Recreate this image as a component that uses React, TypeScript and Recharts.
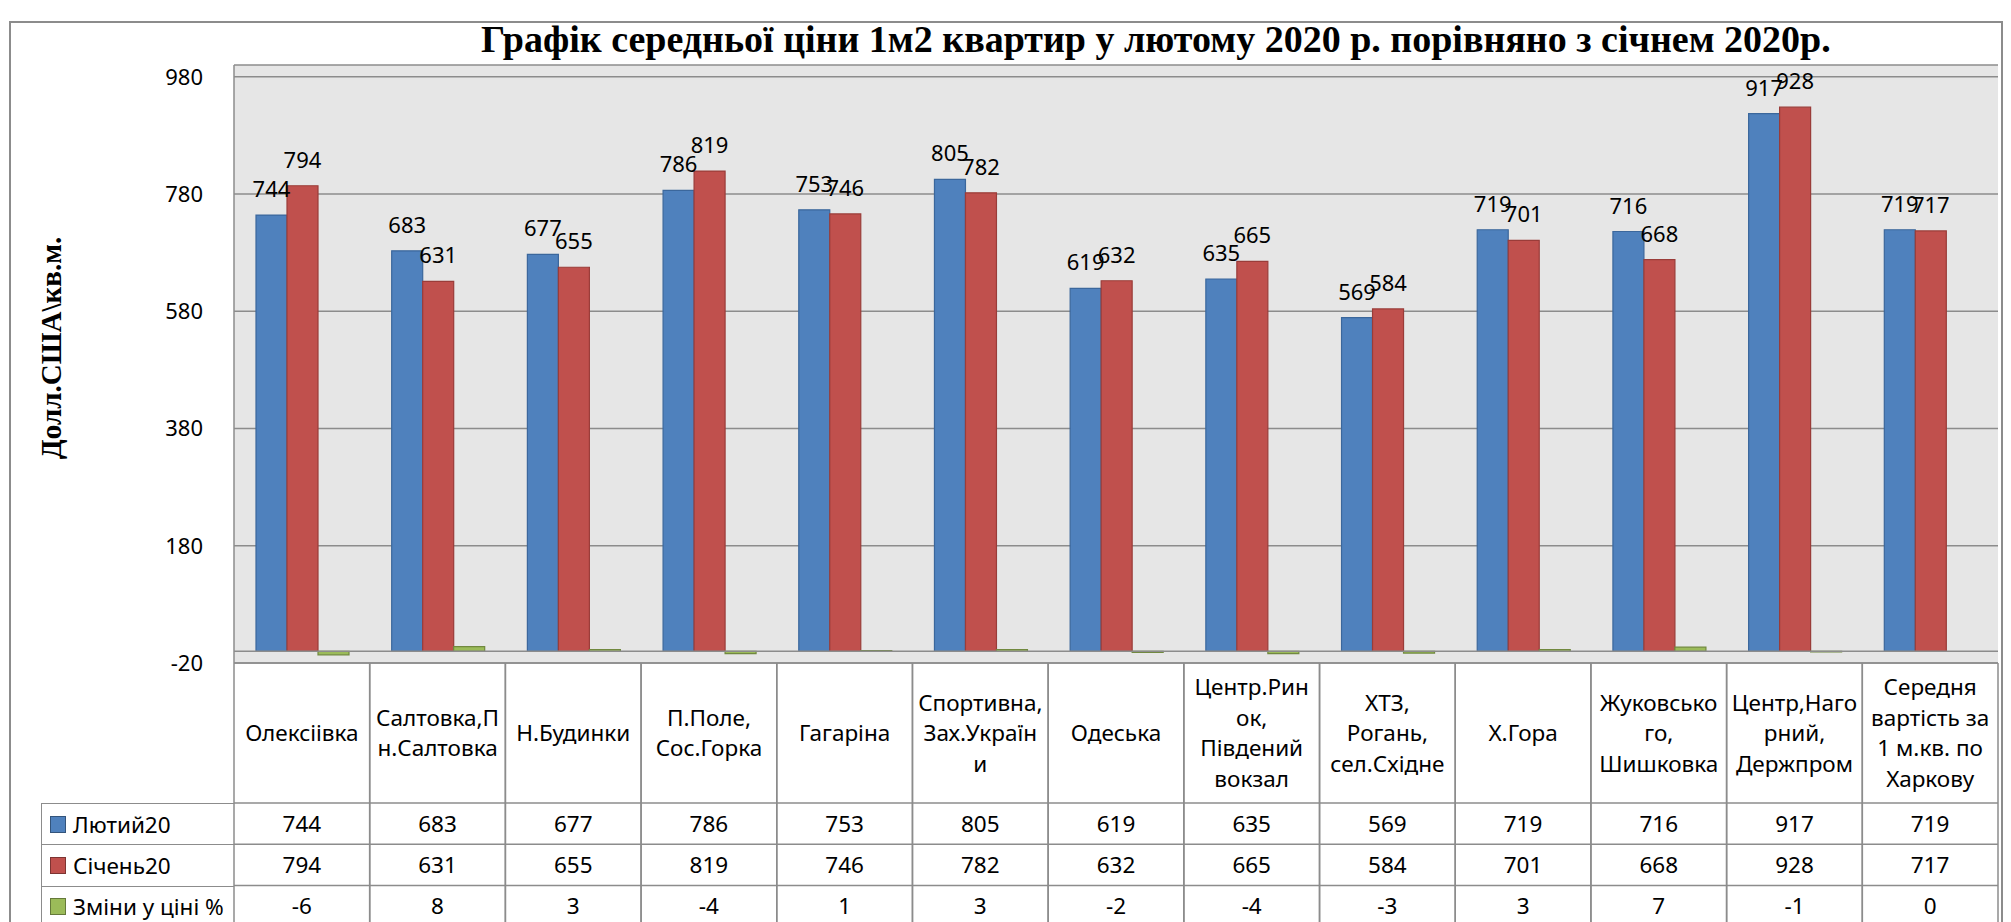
import React from "react";
import { BarChart, Bar, XAxis, YAxis, CartesianGrid, ReferenceLine, LabelList, Legend } from "recharts";

const categories = [
  "Олексіівка",
  "Салтовка,Пн.Салтовка",
  "Н.Будинки",
  "П.Поле, Сос.Горка",
  "Гагаріна",
  "Спортивна, Зах.України",
  "Одеська",
  "Центр.Ринок, Південий вокзал",
  "ХТЗ, Рогань, сел.Східне",
  "Х.Гора",
  "Жуковського, Шишковка",
  "Центр,Нагорний, Держпром",
  "Середня вартість за 1 м.кв. по Харкову",
];

// how each category name wraps in the table header
const categoryLines = [
  ["Олексіівка"],
  ["Салтовка,П", "н.Салтовка"],
  ["Н.Будинки"],
  ["П.Поле,", "Сос.Горка"],
  ["Гагаріна"],
  ["Спортивна,", "Зах.Україн", "и"],
  ["Одеська"],
  ["Центр.Рин", "ок,", "Південий", "вокзал"],
  ["ХТЗ,", "Рогань,", "сел.Східне"],
  ["Х.Гора"],
  ["Жуковсько", "го,", "Шишковка"],
  ["Центр,Наго", "рний,", "Держпром"],
  ["Середня", "вартість за", "1 м.кв. по", "Харкову"],
];

const feb20 = [744, 683, 677, 786, 753, 805, 619, 635, 569, 719, 716, 917, 719];
const jan20 = [794, 631, 655, 819, 746, 782, 632, 665, 584, 701, 668, 928, 717];
const priceChange = [-6, 8, 3, -4, 1, 3, -2, -4, -3, 3, 7, -1, 0];

const seriesNames = ["Лютий20", "Січень20", "Зміни у ціні %"];
const yTicks = [-20, 180, 380, 580, 780, 980];

const data = categories.map((name, i) => ({
  name,
  feb: feb20[i],
  jan: jan20[i],
  change: priceChange[i],
}));

const FONT = "'Noto Sans', 'Open Sans', sans-serif";
const SERIF = "'Liberation Serif', 'Times New Roman', serif";
const LINE = "#8c8c8c";

const W = 2011;
const H = 922;
const PLOT_LEFT = 234;
const PLOT_RIGHT = 1998;
const PLOT_TOP = 65;
const PLOT_BOTTOM = 663;
const BAND = (PLOT_RIGHT - PLOT_LEFT) / categories.length;
const HEAD_H = 140;
const ROW_H = 41.3;
const TABLE_FS = 22.5;

const TableTick = (props: any) => {
  const { x, y, payload } = props;
  const i = categories.indexOf(payload.value);
  const lines = categoryLines[i] || [payload.value];
  const left = x - BAND / 2;
  const right = x + BAND / 2;
  const headMid = y + HEAD_H / 2;
  const rows = [feb20[i], jan20[i], priceChange[i]];
  const bottom = H + 10;
  return (
    <g>
      <line x1={left} y1={y} x2={left} y2={bottom} stroke={LINE} strokeWidth={1.5} />
      <line x1={right} y1={y} x2={right} y2={bottom} stroke={LINE} strokeWidth={1.5} />
      {lines.map((t, k) => (
        <text
          key={k}
          x={x}
          y={headMid + (k - (lines.length - 1) / 2) * 30.5 + 8}
          textAnchor="middle"
          fontFamily={FONT}
          fontSize={TABLE_FS}
          fill="#000"
        >
          {t}
        </text>
      ))}
      {rows.map((v, r) => {
        const top = y + HEAD_H + r * ROW_H;
        return (
          <g key={r}>
            <line x1={left} y1={top} x2={right} y2={top} stroke={LINE} strokeWidth={1.5} />
            <text x={x} y={top + ROW_H / 2 + 8} textAnchor="middle" fontFamily={FONT} fontSize={TABLE_FS} fill="#000">
              {v}
            </text>
          </g>
        );
      })}
    </g>
  );
};

const TableLegend = (props: any) => {
  const items = [...(props.payload || [])].sort(
    (a: any, b: any) => seriesNames.indexOf(a.value) - seriesNames.indexOf(b.value)
  );
  return (
    <div style={{ width: PLOT_LEFT - 41, fontFamily: FONT, fontSize: TABLE_FS, color: "#000" }}>
      {items.map((it: any, k: number) => (
        <div
          key={k}
          style={{
            height: ROW_H,
            boxSizing: "border-box",
            borderLeft: `1.5px solid ${LINE}`,
            borderTop: `1.5px solid ${LINE}`,
            display: "flex",
            alignItems: "center",
            whiteSpace: "nowrap",
          }}
        >
          <span
            style={{
              display: "inline-block",
              width: 14,
              height: 15,
              marginLeft: 8,
              marginRight: 7,
              background: it.color,
              border: "1px solid rgba(0,0,0,0.35)",
            }}
          />
          <span>{it.value}</span>
        </div>
      ))}
    </div>
  );
};

export default function App() {
  return (
    <div style={{ position: "absolute", left: 0, top: 0, width: W, height: H, background: "#fff", overflow: "hidden" }}>
      <div
        style={{
          position: "absolute",
          left: 9,
          top: 21,
          width: 1994,
          height: 940,
          border: `2px solid ${LINE}`,
          boxSizing: "border-box",
        }}
      />
      <div style={{ position: "absolute", left: 0, top: 0 }}>
        <BarChart
          width={W}
          height={H}
          data={data}
          margin={{ top: PLOT_TOP, right: W - PLOT_RIGHT, bottom: 0, left: 0 }}
          barCategoryGap={22}
          barGap={0}
        >
          <CartesianGrid vertical={false} stroke={LINE} strokeWidth={1.5} fill="#e6e6e6" />
          <XAxis
            dataKey="name"
            height={H - PLOT_BOTTOM}
            interval={0}
            tickLine={false}
            tickSize={0}
            tickMargin={0}
            axisLine={{ stroke: LINE, strokeWidth: 1.5 }}
            tick={<TableTick />}
          />
          <YAxis
            width={PLOT_LEFT}
            domain={[-20, 1000]}
            ticks={yTicks}
            allowDataOverflow
            tickLine={false}
            tickMargin={25}
            axisLine={{ stroke: LINE, strokeWidth: 1.5 }}
            tick={{ fill: "#000", fontSize: 22, fontFamily: FONT }}
          />
          <ReferenceLine y={0} stroke={LINE} strokeWidth={1.5} />
          <Legend
            layout="vertical"
            align="center"
            verticalAlign="middle"
            content={<TableLegend />}
            wrapperStyle={{ left: 41, top: PLOT_BOTTOM + HEAD_H, width: PLOT_LEFT - 41 }}
          />
          <Bar dataKey="feb" name={seriesNames[0]} fill="#4F81BD" stroke="#3B679C" strokeWidth={1.2} isAnimationActive={false}>
            <LabelList dataKey="feb" position="top" offset={18} fill="#000" fontSize={22} fontFamily={FONT} />
          </Bar>
          <Bar dataKey="jan" name={seriesNames[1]} fill="#C0504D" stroke="#9A3C39" strokeWidth={1.2} isAnimationActive={false}>
            <LabelList dataKey="jan" position="top" offset={18} fill="#000" fontSize={22} fontFamily={FONT} />
          </Bar>
          <Bar dataKey="change" name={seriesNames[2]} fill="#9BBB59" stroke="#71893F" strokeWidth={1.2} isAnimationActive={false} />
        </BarChart>
      </div>
      <svg width={W} height={H} style={{ position: "absolute", left: 0, top: 0, pointerEvents: "none" }}>
        <text x={481} y={52} fontFamily={SERIF} fontWeight="bold" fontSize={38} fill="#000">
          Графік середньої ціни 1м2 квартир у лютому 2020 р. порівняно з січнем 2020р.
        </text>
        <text
          x={61}
          y={348}
          transform="rotate(-90 61 348)"
          textAnchor="middle"
          fontFamily={SERIF}
          fontWeight="bold"
          fontSize={29}
          fill="#000"
        >
          Долл.США\кв.м.
        </text>
      </svg>
    </div>
  );
}
